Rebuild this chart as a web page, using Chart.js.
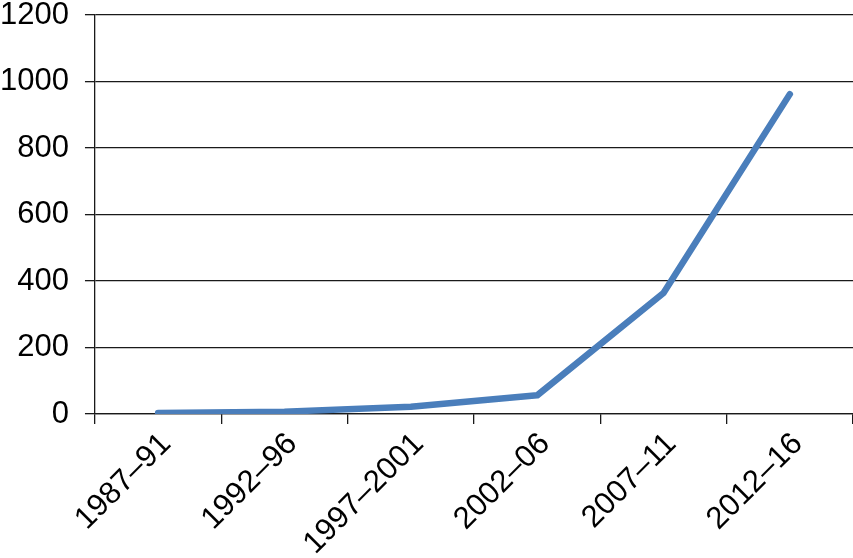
<!DOCTYPE html>
<html>
<head>
<meta charset="utf-8">
<script src="https://cdn.jsdelivr.net/npm/chart.js@4/dist/chart.umd.min.js"></script>
<style>
  html, body { margin: 0; padding: 0; background: #fff; }
  #chart { display: block; }
</style>
</head>
<body>
<canvas id="chart" width="853" height="558"></canvas>
<script>
const periods = ['1987–91', '1992–96', '1997–2001', '2002–06', '2007–11', '2012–16'];
const counts  = [3, 7, 22, 56, 364, 962];
const yTicks  = [0, 200, 400, 600, 800, 1000, 1200];

const lineBlue = '#4a7ebb';
const axisInk  = '#1a1a1a';
const labelFont = { family: "'Liberation Sans', Arial, sans-serif", size: 31 };
const yLabelGap = 16;

new Chart(document.getElementById('chart').getContext('2d'), {
    type: 'line',
    data: {
        labels: periods,
        datasets: [{
            data: counts,
            borderColor: lineBlue,
            borderWidth: 6.5,
            borderCapStyle: 'round',
            borderJoinStyle: 'round',
            tension: 0,
            pointRadius: 0,
            fill: false
        }]
    },
    options: {
        responsive: false,
        animation: false,
        devicePixelRatio: 1,
        layout: { padding: { left: 0, right: 0, top: 15, bottom: -6 } },
        plugins: { legend: { display: false }, tooltip: { enabled: false } },
        scales: {
            x: {
                offset: true,
                // rotated labels hang left under the y labels, no extra room needed
                afterFit(scale) { scale.paddingLeft = 0; scale.paddingRight = 0; },
                grid: {
                    offset: true,
                    drawOnChartArea: false,
                    drawTicks: true,
                    tickLength: 10,
                    color: axisInk,
                    lineWidth: 1.3
                },
                border: { display: true, color: axisInk, width: 1.3 },
                ticks: {
                    color: '#000',
                    font: labelFont,
                    minRotation: 45,
                    maxRotation: 45,
                    padding: 2,
                    labelOffset: 8,
                    autoSkip: false
                }
            },
            y: {
                min: yTicks[0],
                max: yTicks[yTicks.length - 1],
                afterBuildTicks(axis) {
                    axis.ticks = yTicks.map(v => ({ value: v }));
                },
                // chart.js reserves the tick padding twice on vertical axes
                afterFit(scale) {
                    scale.paddingTop = 0;
                    scale.paddingBottom = 0;
                    scale.width -= yLabelGap;
                },
                grid: {
                    color: axisInk,
                    lineWidth: 1.3,
                    tickLength: 10
                },
                border: { display: true, color: axisInk, width: 1.3 },
                ticks: {
                    color: '#000',
                    font: labelFont,
                    padding: yLabelGap,
                    callback: v => String(v)
                }
            }
        }
    }
});
</script>
</body>
</html>
